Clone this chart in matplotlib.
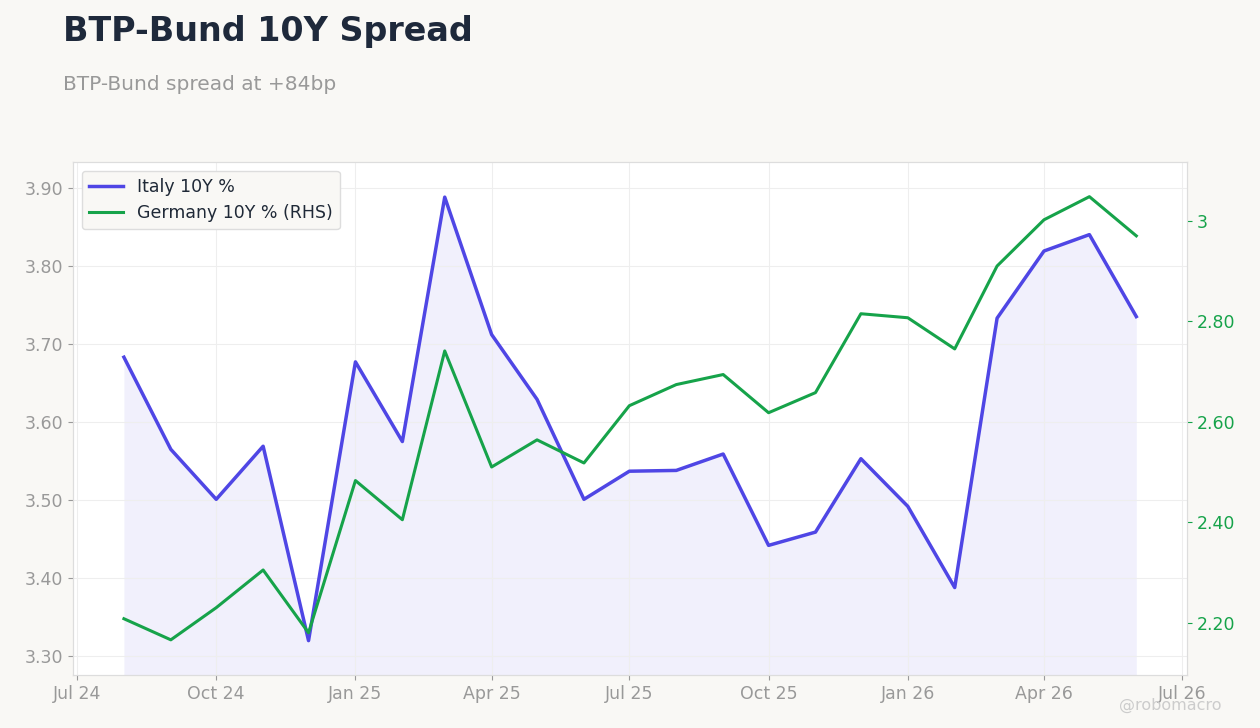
import matplotlib
matplotlib.use("Agg")
import matplotlib.pyplot as plt
import matplotlib.dates as mdates
import pandas as pd
import numpy as np

dates = pd.date_range("2024-08-01", periods=23, freq="MS")
italy = [3.683, 3.565, 3.501, 3.569, 3.320, 3.677, 3.575, 3.888, 3.712, 3.629, 3.501, 3.537,
         3.538, 3.559, 3.442, 3.459, 3.553, 3.492, 3.388, 3.733, 3.819, 3.840, 3.735]
germany = [2.208, 2.166, 2.230, 2.305, 2.180, 2.483, 2.405, 2.741, 2.510, 2.564, 2.518, 2.632,
           2.674, 2.694, 2.618, 2.658, 2.815, 2.807, 2.745, 2.910, 3.002, 3.048, 2.970]
left_ticks = [3.30, 3.40, 3.50, 3.60, 3.70, 3.80, 3.90]
right_ticks = [2.20, 2.40, 2.60, 2.80, 3.00]
right_labels = ["2.20", "2.40", "2.60", "2.80", "3"]
xticks = pd.date_range("2024-07-01", periods=9, freq="3MS")
xlabels = ["Jul 24", "Oct 24", "Jan 25", "Apr 25", "Jul 25", "Oct 25", "Jan 26", "Apr 26", "Jul 26"]

bg = "#f9f8f5"
blue = "#4f46e5"
green = "#16a34a"
grey = "#999999"

fig = plt.figure(figsize=(12.6, 7.28), dpi=100, facecolor=bg)
ax = fig.add_axes([73/1260, 1-675/728, (1187-73)/1260, (675-162)/728])
ax.set_facecolor("white")
ylo = 3.276
ax.fill_between(dates, italy, ylo, color=blue, alpha=0.08, lw=0)
l1, = ax.plot(dates, italy, color=blue, lw=2.5, label="Italy 10Y %")
ax.set_ylim(ylo, 3.933)
ax.set_yticks(left_ticks)
ax.set_yticklabels([f"{v:.2f}" for v in left_ticks])
x0 = mdates.date2num(pd.Timestamp("2024-07-01")); x1 = mdates.date2num(pd.Timestamp("2026-04-01"))
span = (x1 - x0) / (1044 - 77)
ax.set_xlim(x0 - 4*span, x1 + (1187 - 1044)*span)
ax.set_xticks(xticks)
ax.set_xticklabels(xlabels)
ax.grid(True, color="#eeeeee", lw=0.8)
for s in ax.spines.values():
    s.set_color("#dddddd")
ax.tick_params(colors=grey, labelsize=12.5)

ax2 = ax.twinx()
l2, = ax2.plot(dates, germany, color=green, lw=2.2, label="Germany 10Y % (RHS)")
ax2.set_ylim(2.096, 3.117)
ax2.set_yticks(right_ticks)
ax2.set_yticklabels(right_labels)
ax2.tick_params(colors=green, labelsize=12.5)
for s in ax2.spines.values():
    s.set_color("#dddddd")

leg = ax.legend(handles=[l1, l2], loc="upper left", fontsize=12.5, facecolor=bg,
                edgecolor="#dddddd", framealpha=1)
for t in leg.get_texts():
    t.set_color("#1f2937")

fig.text(63/1260, 1-31/728, "BTP-Bund 10Y Spread", fontsize=24, fontweight="bold",
         color="#1e293b", va="center")
fig.text(63/1260, 1-85/728, "BTP-Bund spread at +84bp", fontsize=14.5, color=grey, va="center")
fig.text(1222/1260, 1-705/728, "@robomacro", fontsize=11.5, color="#cccccc", ha="right", va="center")
fig.savefig("out.png", dpi=100, facecolor=bg)
